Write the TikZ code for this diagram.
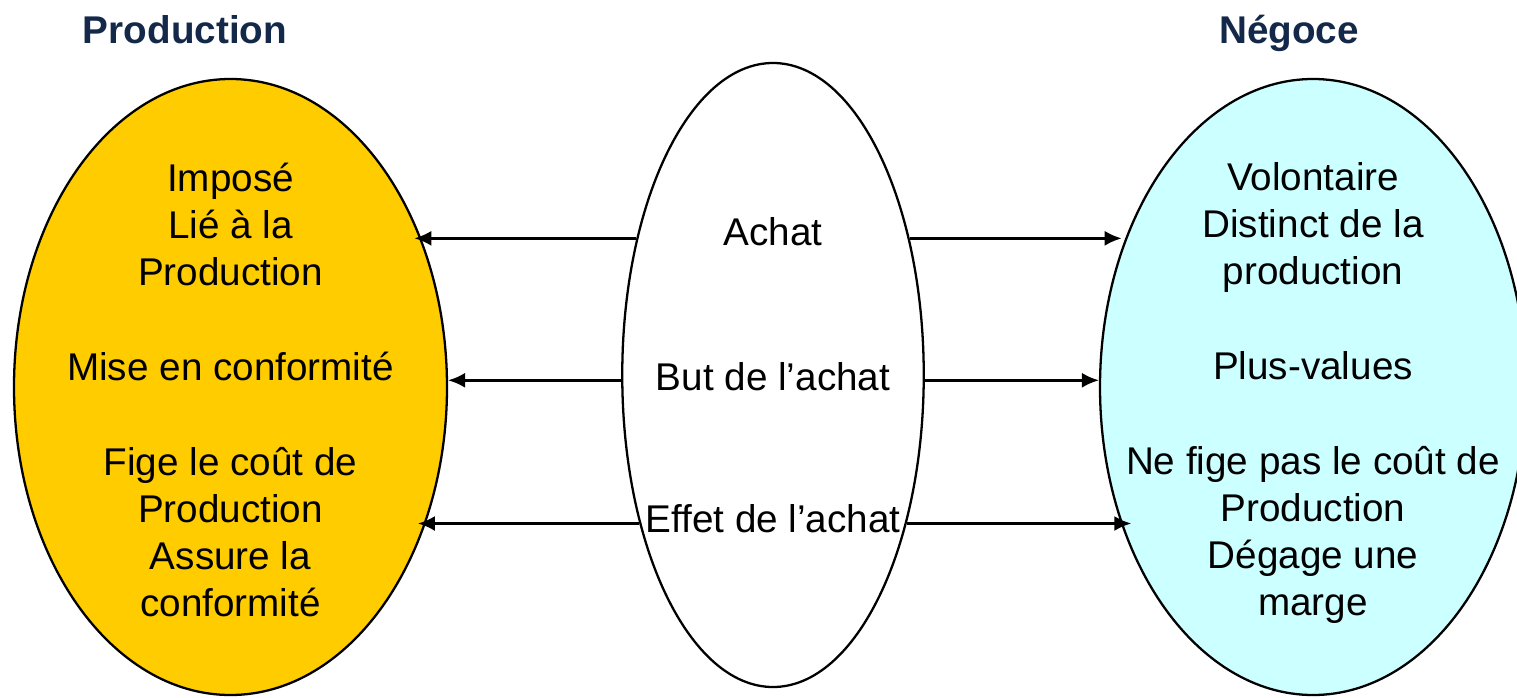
\documentclass[tikz,border=0pt]{standalone}
\usepackage{fontspec}
\setmainfont{Liberation Sans}
\usepackage{tikz}
\usetikzlibrary{shapes.geometric,positioning,arrows.meta}

\definecolor{prodfill}{HTML}{FFCC00}
\definecolor{negofill}{HTML}{CCFFFF}
\definecolor{titlenavy}{HTML}{14284A}

\begin{document}
\begin{tikzpicture}[%
        >={Latex[length=0.34cm,width=0.3cm]},
        on grid,
        every node/.style={font=\fontsize{22}{26.8}\selectfont},
        bubble/.style={ellipse, draw, line width=1.3pt, inner sep=0pt},
        bubbletext/.style={align=center, inner sep=0pt},
        heading/.style={text=titlenavy, font=\fontsize{22}{26.8}\selectfont\bfseries, anchor=base},
        link/.style={->, line width=1.4pt}
        ]
        \useasboundingbox (0,0) rectangle (30.34,-13.94);

        \node[bubble, minimum width=6.03cm, minimum height=12.48cm] (achat) at (15.46,-7.50) {};
        \node[bubble, fill=prodfill, minimum width=8.66cm, minimum height=12.32cm] (production) [left=10.85cm of achat, yshift=-0.24cm] {};
        \node[bubble, fill=negofill, minimum width=8.52cm, minimum height=12.32cm] (negoce) [right=10.80cm of achat, yshift=-0.24cm] {};

        \node[heading] (prodtitle) at (3.70,-0.86) {Production};
        \node[heading] (negotitle) at (25.78,-0.86) {Négoce};

        \node[bubbletext] (achattxt) at (achat) {Achat\\[1.96cm]But de l’achat\\[1.9cm]Effet de l’achat};
        \node[bubbletext, yshift=-0.06cm] (prodtxt) at (production) {Imposé\\Lié à la\\Production\\[0.95cm]Mise en conformité\\[0.95cm]Fige le coût de\\Production\\Assure la\\conformité};
        \node[bubbletext, yshift=-0.12cm] (negotxt) at (negoce) {Volontaire\\Distinct de la\\production\\[0.95cm]Plus-values\\[0.95cm]Ne fige pas le coût de\\Production\\Dégage une\\marge};

        \path[link] (achat.135) edge (production.42 |- achat.135);
        \path[link] (achat.182) edge (production.2 |- achat.182);
        \path[link] (achat.228) edge (production.-40 |- achat.228);

        \path[link] (achat.45) edge (negoce.144 |- achat.45);
        \path[link] (achat.-2) edge (negoce.178 |- achat.-2);
        \path[link] (achat.-48) edge (negoce.-138 |- achat.-48);

    \end{tikzpicture}
\end{document}
